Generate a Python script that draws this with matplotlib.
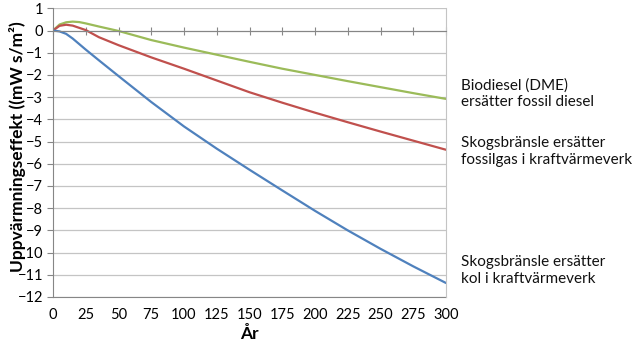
import matplotlib.pyplot as plt

plt.rcParams['font.family'] = ['Lato', 'DejaVu Sans']

years = [0, 5, 10, 15, 20, 25, 35, 50, 75, 100, 125, 150, 175, 200, 225, 250, 275, 300]

biodiesel = [0, 0.27, 0.37, 0.40, 0.38, 0.32, 0.18, -0.02, -0.43, -0.77, -1.09, -1.41,
             -1.72, -2.00, -2.28, -2.55, -2.82, -3.08]
fossilgas = [0, 0.21, 0.26, 0.22, 0.12, 0.02, -0.30, -0.66, -1.21, -1.72, -2.25, -2.78,
             -3.25, -3.70, -4.13, -4.55, -4.96, -5.37]
kol = [0, -0.04, -0.15, -0.36, -0.61, -0.86, -1.34, -2.05, -3.22, -4.32, -5.32, -6.27,
       -7.20, -8.12, -9.00, -9.83, -10.62, -11.37]

series = [
    (biodiesel, '#9bbb59', 'Biodiesel (DME)\nersätter fossil diesel', 88),
    (fossilgas, '#c0504d', 'Skogsbränsle ersätter\nfossilgas i kraftvärmeverk', 146),
    (kol, '#4f81bd', 'Skogsbränsle ersätter\nkol i kraftvärmeverk', 265),
]

x_ticks = list(range(0, 301, 25))
y_ticks = list(range(-12, 2))

W, H = 644, 344
fig = plt.figure(figsize=(W / 100, H / 100), dpi=100)
ax = fig.add_axes([53 / W, 1 - 297 / H, (446 - 53) / W, (297 - 8.3) / H])

for values, color, label, ypix in series:
    ax.plot(years, values, color=color, lw=1.6, solid_capstyle='round')
    # label text to the right of the plot, first line centred on ypix
    fig.text(461 / W, 1 - (ypix - 10) / H, label, fontsize=11, va='top', ha='left',
             linespacing=1.25, color='#111111')

ax.set_xlim(0, 300)
ax.set_ylim(-12, 1)
ax.set_yticks(y_ticks)
ax.grid(axis='y', color='#c4c4c4', lw=0.9)
ax.set_axisbelow(True)

# horizontal axis line sits at zero, labels stay at the bottom
ax.spines['bottom'].set_position(('data', 0))
ax.spines['bottom'].set_color('#868686')
ax.set_xticks(x_ticks)
ax.tick_params(axis='x', direction='inout', length=6, color='#868686', labelbottom=False)

ax.spines['left'].set_color('#868686')
ax.spines['right'].set_color('#c4c4c4')
ax.spines['top'].set_visible(False)
ax.tick_params(axis='y', direction='out', length=4, color='#868686', labelsize=10.5,
               pad=3)

sec = ax.secondary_xaxis(0)
sec.set_xticks(x_ticks)
sec.tick_params(length=0, labelsize=10.5, pad=8)
sec.spines['bottom'].set_color('#868686')
sec.set_xlabel('År', fontsize=12.5, fontweight='bold', labelpad=3)

ylab = ax.set_ylabel('Uppvärmningseffekt ((mW s/m²)', fontsize=12.5, fontweight='bold')
ax.yaxis.set_label_coords(-0.068, 0.52)
ylab.set_bbox(dict(facecolor='white', edgecolor='none', pad=0.3))

fig.savefig('out.png', dpi=100)
